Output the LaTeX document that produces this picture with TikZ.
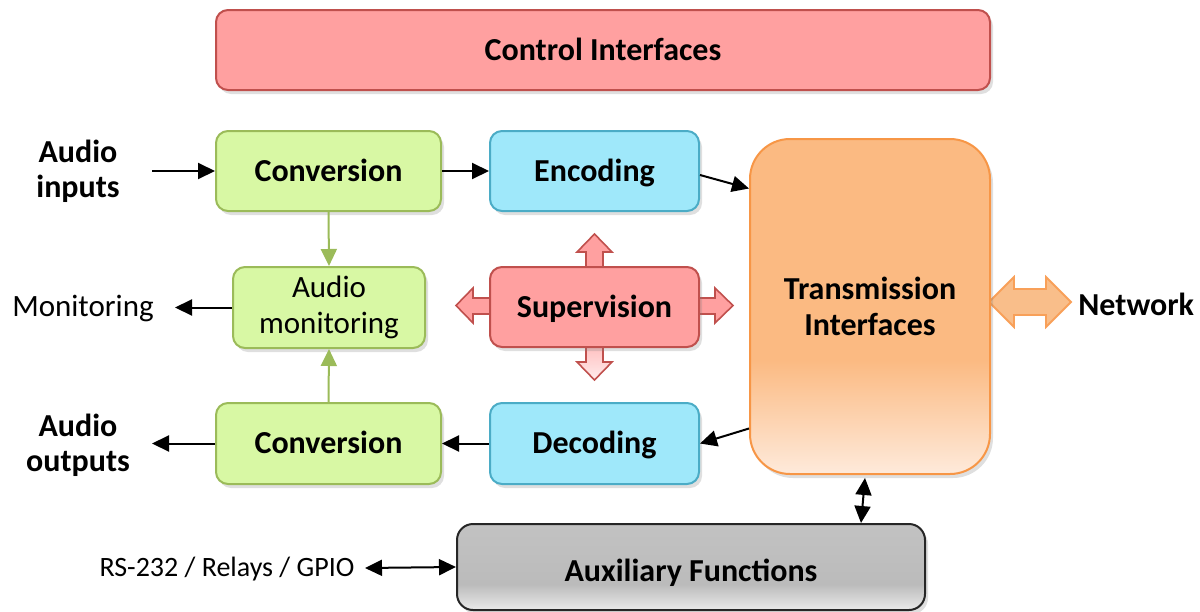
\documentclass[tikz,border=0pt]{standalone}
\usepackage{fontspec}
\setmainfont{Carlito}
\usetikzlibrary{shadows,arrows.meta}
\definecolor{pinkF}{HTML}{FFA0A0}
\definecolor{pinkD}{HTML}{C0504D}
\definecolor{pinkL}{HTML}{FFECEC}
\definecolor{grF}{HTML}{D8F8A4}
\definecolor{grD}{HTML}{9BBB59}
\definecolor{cyF}{HTML}{9FE8FA}
\definecolor{cyD}{HTML}{4BACC6}
\definecolor{orF}{HTML}{FBBA82}
\definecolor{orB}{HTML}{FEEADB}
\definecolor{orD}{HTML}{F79646}
\definecolor{orA}{HTML}{F9BE8A}
\definecolor{gT}{HTML}{C2C2C2}
\definecolor{gM}{HTML}{BBBBBB}
\definecolor{gB}{HTML}{EAEAEA}
\pgfdeclareverticalshading{transshade}{100bp}{color(0bp)=(orB); color(25bp)=(orB); color(42bp)=(orF); color(100bp)=(orF)}
\pgfdeclareverticalshading{auxshade}{100bp}{color(0bp)=(gB); color(25bp)=(gB); color(40bp)=(gM); color(75bp)=(gT); color(100bp)=(gT)}
\tikzset{
  box/.style={rectangle, rounded corners=6pt, line width=1pt, inner sep=0pt, align=center,
    font=\bfseries\fontsize{16}{18}\selectfont,
    drop shadow={shadow xshift=1.5pt, shadow yshift=-2pt, opacity=0.25}},
  oneline/.style={text height=10.3pt, text depth=0pt},
  greenbox/.style={box, fill=grF, draw=grD},
  cyanbox/.style={box, fill=cyF, draw=cyD},
  pinkbox/.style={box, fill=pinkF, draw=pinkD},
  arr/.style={line width=1pt, -{Triangle[length=8.5pt,width=8pt]}},
  dblarr/.style={line width=1pt, {Triangle[length=8.5pt,width=8pt]}-{Triangle[length=8.5pt,width=8pt]}},
  garr/.style={line width=1pt, draw=grD, -{Triangle[length=8.5pt,width=8pt]}, grD},
  blockarr/.style={line width=0.8pt, draw=pinkD, fill=pinkF, line join=miter},
  lbl/.style={inner sep=0pt, align=center, font=\fontsize{15.5}{18}\selectfont},
  blbl/.style={inner sep=0pt, align=center, font=\bfseries\fontsize{16}{17.5}\selectfont},
}
\begin{document}
\begin{tikzpicture}[x=0.5pt, y=-0.5pt]
\useasboundingbox (0,0) rectangle (1200,611);

% block arrows around Supervision
\draw[blockarr] (586,272)--(586,252)--(577,252)--(594.5,234)--(612,252)--(603,252)--(603,272)--cycle;
\draw[blockarr, top color=pinkF!70!white, bottom color=pinkL] (586,343)--(586,362)--(577,362)--(594.5,380)--(612,362)--(603,362)--(603,343)--cycle;
\draw[blockarr] (494,298)--(473,298)--(473,288)--(456,305.5)--(473,323)--(473,314)--(494,314)--cycle;
\draw[blockarr] (695,298)--(715,298)--(715,288)--(733,305.5)--(715,323)--(715,314)--(695,314)--cycle;

% Network double arrow
\draw[line width=0.9pt, draw=orD!90!white, fill=orA, line join=miter]
  (989,302)--(1014,277)--(1014,289)--(1046,289)--(1046,277)--(1071,302)--(1046,327)--(1046,315)--(1014,315)--(1014,327)--cycle;

% nodes
\node[pinkbox, oneline, minimum width=387pt, minimum height=40pt] (ctrl) at (603,50) {Control Interfaces};
\node[greenbox, oneline, minimum width=112.5pt, minimum height=40pt] (conv1) at (328.5,171) {Conversion};
\node[cyanbox, oneline, minimum width=104.5pt, minimum height=40pt] (enc) at (594.5,171) {Encoding};
\node[greenbox, minimum width=96pt, minimum height=40.5pt, font=\fontsize{15.5}{18}\selectfont] (mon) at (329,307.5) {Audio\\monitoring};
\node[pinkbox, oneline, minimum width=104.5pt, minimum height=40pt] (sup) at (594.5,307) {Supervision};
\node[greenbox, oneline, minimum width=112.5pt, minimum height=40.5pt] (conv2) at (328.5,443.5) {Conversion};
\node[cyanbox, oneline, minimum width=104.5pt, minimum height=40.5pt] (dec) at (594.5,443.5) {Decoding};
\node[box, rounded corners=20pt, minimum width=120pt, minimum height=167.5pt, draw=orD, shading=transshade] (trans) at (870,306.5) {Transmission\\Interfaces};
\node[box, rounded corners=8pt, text height=14.3pt, text depth=0pt, minimum width=234pt, minimum height=43pt, draw=black!85, shading=auxshade] (aux) at (691,567) {Auxiliary Functions};

% labels
\node[blbl] (ain) at (78,171) {Audio\\inputs};
\node[blbl] (aout) at (78,445) {Audio\\outputs};
\node[lbl] (monl) at (83,308) {Monitoring};
\node[blbl, anchor=west] (net) at (1078,304) {Network};
\node[lbl, font=\fontsize{14}{16}\selectfont] (rsl) at (227,569) {RS-232 / Relays / GPIO};

% connector free ends
\coordinate (ainE) at (152,171);
\coordinate (aoutE) at (152,443.5);
\coordinate (monE) at (175,307.5);
\coordinate (rsE) at (365,568);

% connectors
\draw[arr] (ainE) -- (conv1.west);
\draw[arr] (conv1.east) -- (enc.west);
\draw[arr] ([yshift=-2pt]enc.east) -- ([yshift=59pt]trans.west);
\draw[arr] ([yshift=-61pt]trans.west) -- (dec.east);
\draw[arr] (dec.west) -- (conv2.east);
\draw[arr] (conv2.west) -- (aoutE);
\draw[arr] (mon.west) -- (monE);
\draw[garr] (conv1.south) -- (mon.north);
\draw[garr] (conv2.north) -- (mon.south);
\draw[dblarr] ([xshift=-2.5pt,yshift=-1.5pt]trans.south) -- ([xshift=85pt]aux.north);
\draw[dblarr] (rsE) -- (aux.west);
\end{tikzpicture}
\end{document}
